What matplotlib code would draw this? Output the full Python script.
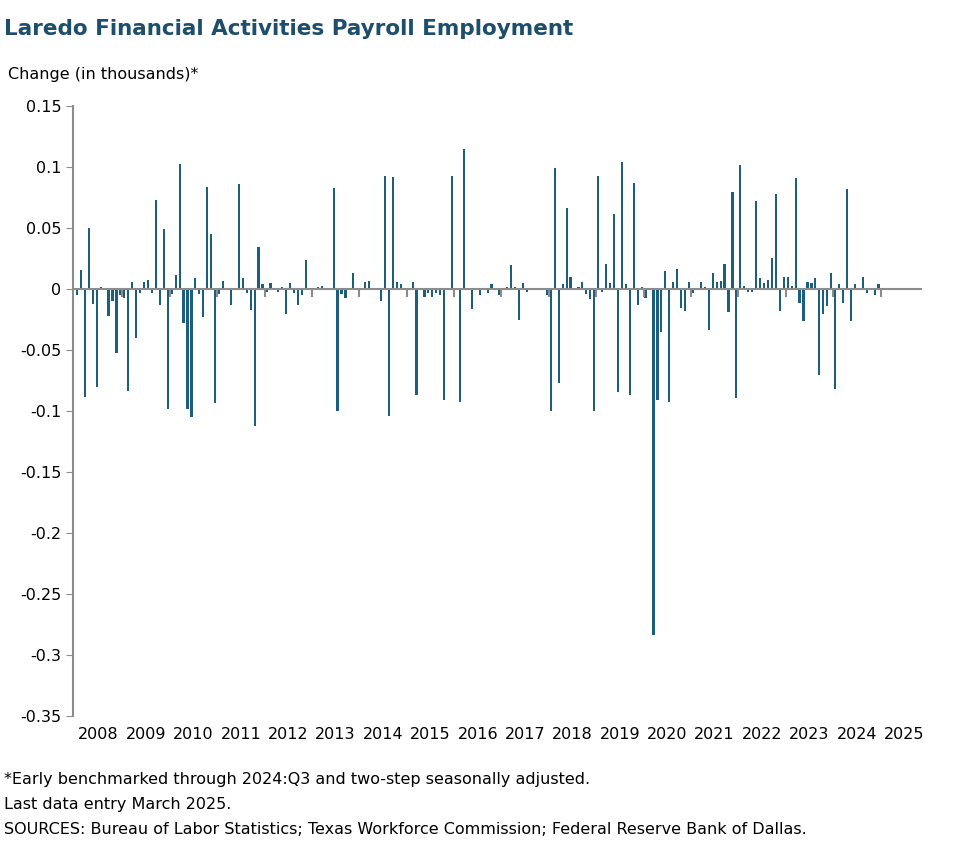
import matplotlib
matplotlib.use("Agg")
import matplotlib.pyplot as plt
import numpy as np

years = list(range(2008, 2026))
y2008 = [-0.005,0.016,-0.088,0.050,-0.012,-0.080,0.002,0,-0.022,-0.010,-0.052,-0.005]
y2009 = [-0.007,-0.083,0.006,-0.040,-0.003,0.006,0.008,-0.003,0.073,-0.013,0.049,-0.098]
y2010 = [-0.004,0.012,0.103,-0.028,-0.098,-0.105,0.009,-0.004,-0.023,0.084,0.045,-0.093]
y2011 = [-0.004,0.007,0,-0.013,0.001,0.086,0.009,-0.003,-0.017,-0.112,0.035,0.004]
y2012 = [-0.002,0.005,0,-0.002,0.002,-0.020,0.005,-0.003,-0.013,-0.005,0.024,0]
y2013 = [0,0.002,0.003,0,0,0.083,-0.100,-0.004,-0.007,0.001,0.013,0]
y2014 = [0,0.006,0.007,0,0,-0.010,0.093,-0.104,0.092,0.006,0.004,0]
y2015 = [0,0.006,-0.087,0,-0.006,-0.003,-0.006,-0.003,-0.005,-0.091,0,0.093]
y2016 = [0,-0.092,0.115,0,-0.016,0,-0.005,0,-0.003,0.004,0,-0.005]
y2017 = [0,0.002,0.020,0.002,-0.025,0.005,-0.002,0,0.001,0,0,-0.005]
y2018 = [-0.100,0.099,-0.077,0.004,0.067,0.010,0,0.002,0.006,-0.004,-0.008,-0.100]
y2019 = [0.093,-0.002,0.021,0.005,0.062,-0.084,0.104,0.004,-0.087,0.087,-0.013,0.002]
y2020 = [-0.007,0,-0.283,-0.091,-0.035,0.015,-0.092,0.006,0.017,-0.015,-0.018,0.006]
y2021 = [-0.003,0,0.006,0.002,-0.033,0.013,0.006,0.007,0.021,-0.019,0.080,-0.089]
y2022 = [0.102,0.003,-0.002,-0.002,0.072,0.009,0.005,0.008,0.026,0.078,-0.018,0.010]
y2023 = [0.010,0.003,0.091,-0.011,-0.026,0.006,0.005,0.009,-0.070,-0.020,-0.014,0.013]
y2024 = [-0.082,0.004,-0.011,0.082,-0.026,0.004,0.001,0.010,-0.003,0,-0.005,0.004]
y2025 = [0.001,0.001,0.001]

values = np.array(y2008+y2009+y2010+y2011+y2012+y2013+y2014+y2015+y2016+y2017
                  +y2018+y2019+y2020+y2021+y2022+y2023+y2024+y2025)
x = np.arange(len(values))

blue = "#1b5e7e"
gray = "#8c8c8c"

fig = plt.figure(figsize=(9.77, 8.64), dpi=100)
ax = fig.add_axes([0.0747, 0.171, 0.869, 0.706])
ax.bar(x, values, width=0.55, color=blue, zorder=2)
ax.axhline(0, color=gray, lw=1.5, zorder=3)
bounds = np.arange(0, len(years)) * 12 - 0.5
ax.vlines(bounds[1:], -0.006, 0, color=gray, lw=1.5, zorder=3)

ax.set_xlim(-1, 214)
ax.set_ylim(-0.35, 0.15)
ax.set_yticks(np.arange(-0.35, 0.151, 0.05))
ax.set_yticklabels(["-0.35","-0.3","-0.25","-0.2","-0.15","-0.1","-0.05","0","0.05","0.1","0.15"])
ax.set_xticks(np.arange(len(years)) * 12 + 5.5)
ax.set_xticklabels([str(y) for y in years])
ax.tick_params(axis="x", length=0, labelsize=11.5, pad=8)
ax.tick_params(axis="y", length=5, color=gray, labelsize=11.5, direction="out")
for s in ["top", "right", "bottom"]:
    ax.spines[s].set_visible(False)
ax.spines["left"].set_color(gray)
ax.spines["left"].set_linewidth(1.5)

fig.text(0.004, 0.966, "Laredo Financial Activities Payroll Employment", fontsize=15.5,
         fontweight="bold", color="#1d4e6b", va="center")
fig.text(0.008, 0.914, "Change (in thousands)*", fontsize=11.5, va="center")
fig.text(0.004, 0.098, "*Early benchmarked through 2024:Q3 and two-step seasonally adjusted.", fontsize=11.5, va="center")
fig.text(0.004, 0.069, "Last data entry March 2025.", fontsize=11.5, va="center")
fig.text(0.004, 0.040, "SOURCES: Bureau of Labor Statistics; Texas Workforce Commission; Federal Reserve Bank of Dallas.", fontsize=11.5, va="center")

fig.savefig("out.png", dpi=100)
